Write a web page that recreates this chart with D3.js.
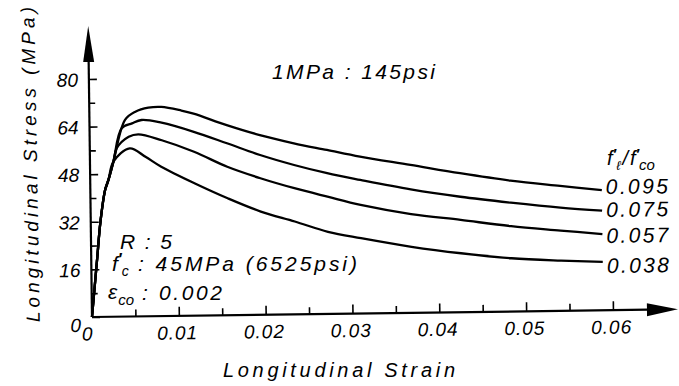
<!DOCTYPE html>
<html>
<head>
<meta charset="utf-8">
<script src="https://cdn.jsdelivr.net/npm/d3@7"></script>
<style>
body { margin: 0; background: #fff; }
#vis { width: 679px; height: 386px; }
svg text { font-family: "Liberation Sans", Arial, sans-serif; font-style: italic; fill: #000; }
</style>
</head>
<body>
<div id="vis"></div>
<script>
// f'l / f'co ratios, one curve each
var ratios = ['0.095', '0.075', '0.057', '0.038'];

var strain095 = [0, 0.0007, 0.0011, 0.0017, 0.0021, 0.0027, 0.0041, 0.0053, 0.0068, 0.0083, 0.0106, 0.0120, 0.0158, 0.0196, 0.0235, 0.0273, 0.0311, 0.0369, 0.0426, 0.0484, 0.0541, 0.0589];
var stress095 = [0, 20.1, 31.6, 42.6, 46.0, 52.1, 66.1, 68.8, 70.1, 70.3, 69.0, 67.9, 63.9, 60.4, 57.5, 55.1, 52.7, 49.7, 46.7, 44.0, 42.0, 40.4];

var strain075 = [0, 0.0007, 0.0011, 0.0017, 0.0021, 0.0027, 0.0037, 0.0049, 0.0060, 0.0083, 0.0120, 0.0158, 0.0196, 0.0235, 0.0273, 0.0311, 0.0369, 0.0426, 0.0484, 0.0541, 0.0589];
var stress075 = [0, 20.1, 31.6, 42.6, 46.0, 52.1, 63.3, 64.9, 66.0, 65.0, 61.8, 57.8, 53.7, 50.2, 47.3, 44.9, 41.5, 38.8, 36.6, 34.7, 33.5];

var strain057 = [0, 0.0007, 0.0011, 0.0017, 0.0021, 0.0027, 0.0031, 0.0045, 0.0056, 0.0083, 0.0120, 0.0158, 0.0196, 0.0235, 0.0273, 0.0311, 0.0369, 0.0426, 0.0484, 0.0541, 0.0589];
var stress057 = [0, 20.1, 31.6, 42.6, 46.0, 52.1, 56.6, 60.4, 61.2, 59.1, 55.1, 49.9, 45.9, 42.4, 39.4, 36.5, 33.2, 31.0, 28.7, 27.0, 25.6];

var strain038 = [0, 0.0007, 0.0011, 0.0017, 0.0021, 0.0027, 0.0046, 0.0064, 0.0082, 0.0120, 0.0158, 0.0196, 0.0235, 0.0273, 0.0311, 0.0369, 0.0426, 0.0484, 0.0541, 0.0589];
var stress038 = [0, 20.1, 31.6, 42.6, 46.0, 52.1, 56.5, 53.6, 50.2, 44.5, 39.3, 34.7, 31.2, 27.6, 25.3, 22.2, 19.8, 17.9, 16.9, 16.3];

var yTicks = [0, 16, 32, 48, 64, 80];
var yMinor = [8, 24, 40, 56, 72];
var xTicks = [0, 0.01, 0.02, 0.03, 0.04, 0.05, 0.06];
var xTickLabels = ['0', '0.01', '0.02', '0.03', '0.04', '0.05', '0.06'];
var xMinor = [0.005, 0.015, 0.025, 0.035, 0.045, 0.055];

var series = [
    { name: ratios[0], strain: strain095, stress: stress095 },
    { name: ratios[1], strain: strain075, stress: stress075 },
    { name: ratios[2], strain: strain057, stress: stress057 },
    { name: ratios[3], strain: strain038, stress: stress038 }
];

var svg = d3.select('#vis')
    .append('svg')
    .attr('width', 679)
    .attr('height', 386);

// the scanned figure is tilted slightly, so the plot frame is too
var g = svg.append('g')
    .attr('transform', 'translate(92,317) rotate(-0.75)');

var x_scale = d3.scaleLinear().domain([0, 0.06]).range([0, 521]);
var y_scale = d3.scaleLinear().domain([0, 80]).range([0, -238]);

// y axis
var y_axis = d3.axisLeft(y_scale)
    .tickValues(yTicks)
    .tickSizeInner(-8)
    .tickSizeOuter(0)
    .tickPadding(11);

var yg = g.append('g').attr('class', 'y axis').call(y_axis);
yg.select('.domain').remove();
yg.selectAll('line').attr('stroke', '#000').attr('stroke-width', 1.6);
yg.selectAll('text')
    .attr('font-size', 19)
    .attr('font-family', null)
    .attr('dy', function(d) { return d === 0 ? '0.75em' : '0.36em'; });

var ymg = g.append('g').call(d3.axisLeft(y_scale).tickValues(yMinor).tickSizeInner(-6).tickSizeOuter(0).tickFormat(''));
ymg.select('.domain').remove();
ymg.selectAll('line').attr('stroke', '#000').attr('stroke-width', 1.6);

// x axis
var x_axis = d3.axisBottom(x_scale)
    .tickValues(xTicks)
    .tickFormat(function(d, i) { return xTickLabels[i]; })
    .tickSizeInner(-9)
    .tickSizeOuter(0)
    .tickPadding(10);

var xg = g.append('g').attr('class', 'x axis').call(x_axis);
xg.select('.domain').remove();
xg.selectAll('line').attr('stroke', '#000').attr('stroke-width', 1.6)
    .attr('y2', function(d) { return d === 0 ? 0 : -9; });
xg.selectAll('text')
    .attr('font-size', 19)
    .attr('font-family', null)
    .attr('letter-spacing', 1)
    .attr('x', function(d) { return d === 0 ? -5 : -2; });

var xmg = g.append('g').call(d3.axisBottom(x_scale).tickValues(xMinor).tickSizeInner(-7).tickSizeOuter(0).tickFormat(''));
xmg.select('.domain').remove();
xmg.selectAll('line').attr('stroke', '#000').attr('stroke-width', 1.6);

// axis lines with arrow heads
g.append('line').attr('x1', 0).attr('y1', 0).attr('x2', 0).attr('y2', -256)
    .attr('stroke', '#000').attr('stroke-width', 2.2);
g.append('path').attr('d', 'M0,-291L-5.5,-255L5.5,-255Z').attr('fill', '#000');
g.append('line').attr('x1', 0).attr('y1', 0).attr('x2', 556).attr('y2', 0)
    .attr('stroke', '#000').attr('stroke-width', 2.2);
g.append('path').attr('d', 'M586,0L555,-6.5L555,6.5Z').attr('fill', '#000');

// curves
var line = d3.line()
    .x(function(d) { return x_scale(d[0]); })
    .y(function(d) { return y_scale(d[1]); })
    .curve(d3.curveCatmullRom.alpha(0.5));

series.forEach(function(s, i) {
    var pts = s.strain.map(function(e, j) { return [e, s.stress[j]]; });
    g.append('path')
        .datum(pts)
        .attr('d', line)
        .attr('fill', 'none')
        .attr('stroke', '#000')
        .attr('stroke-width', 2.3)
        .attr('stroke-linejoin', 'round');
    // end labels spread a little downwards so they do not collide
    var last = pts[pts.length - 1];
    g.append('text')
        .attr('x', x_scale(last[0]) + 4)
        .attr('y', y_scale(last[1]) + 4 + i * 2.4)
        .attr('font-size', 21)
        .attr('textLength', 62)
        .text(s.name);
});

// axis titles
svg.append('text')
    .attr('transform', 'translate(37,164.5) rotate(-91)')
    .attr('text-anchor', 'middle')
    .attr('font-size', 19)
    .attr('textLength', 315)
    .text('Longitudinal Stress (MPa)');

svg.append('text')
    .attr('x', 223).attr('y', 377)
    .attr('font-size', 20)
    .attr('textLength', 232)
    .text('Longitudinal Strain');

// notes
svg.append('text')
    .attr('x', 272).attr('y', 79)
    .attr('font-size', 21)
    .attr('textLength', 163)
    .text('1MPa : 145psi');

svg.append('text').attr('x', 120).attr('y', 249).attr('font-size', 21)
    .attr('textLength', 52).text('R : 5');

var fc = svg.append('text').attr('x', 112).attr('y', 271).attr('font-size', 21);
fc.append('tspan').text('f');
fc.append('tspan').attr('dy', -6).attr('font-size', 16).attr('font-weight', 'bold').text('′');
fc.append('tspan').attr('dy', 11).attr('font-size', 14).text('c');
svg.append('text').attr('x', 138).attr('y', 271).attr('font-size', 21)
    .attr('textLength', 219).text(': 45MPa (6525psi)');

var eco = svg.append('text').attr('x', 108).attr('y', 299).attr('font-size', 21);
eco.append('tspan').text('ε');
eco.append('tspan').attr('dx', 1).attr('dy', 6).attr('font-size', 15).text('co');
svg.append('text').attr('x', 142).attr('y', 300).attr('font-size', 21)
    .attr('textLength', 80).text(': 0.002');

// legend header f'l / f'co
var hd = svg.append('text').attr('x', 607).attr('y', 165).attr('font-size', 20);
hd.append('tspan').text('f');
hd.append('tspan').attr('dy', -6).attr('font-size', 15).attr('font-weight', 'bold').text('′');
hd.append('tspan').attr('dy', 11).attr('font-size', 13).text('ℓ');
hd.append('tspan').attr('dx', 2).attr('dy', -5).text('/');
hd.append('tspan').attr('dx', 2).text('f');
hd.append('tspan').attr('dy', -6).attr('font-size', 15).attr('font-weight', 'bold').text('′');
hd.append('tspan').attr('dy', 11).attr('font-size', 15).text('co');
</script>
</body>
</html>
